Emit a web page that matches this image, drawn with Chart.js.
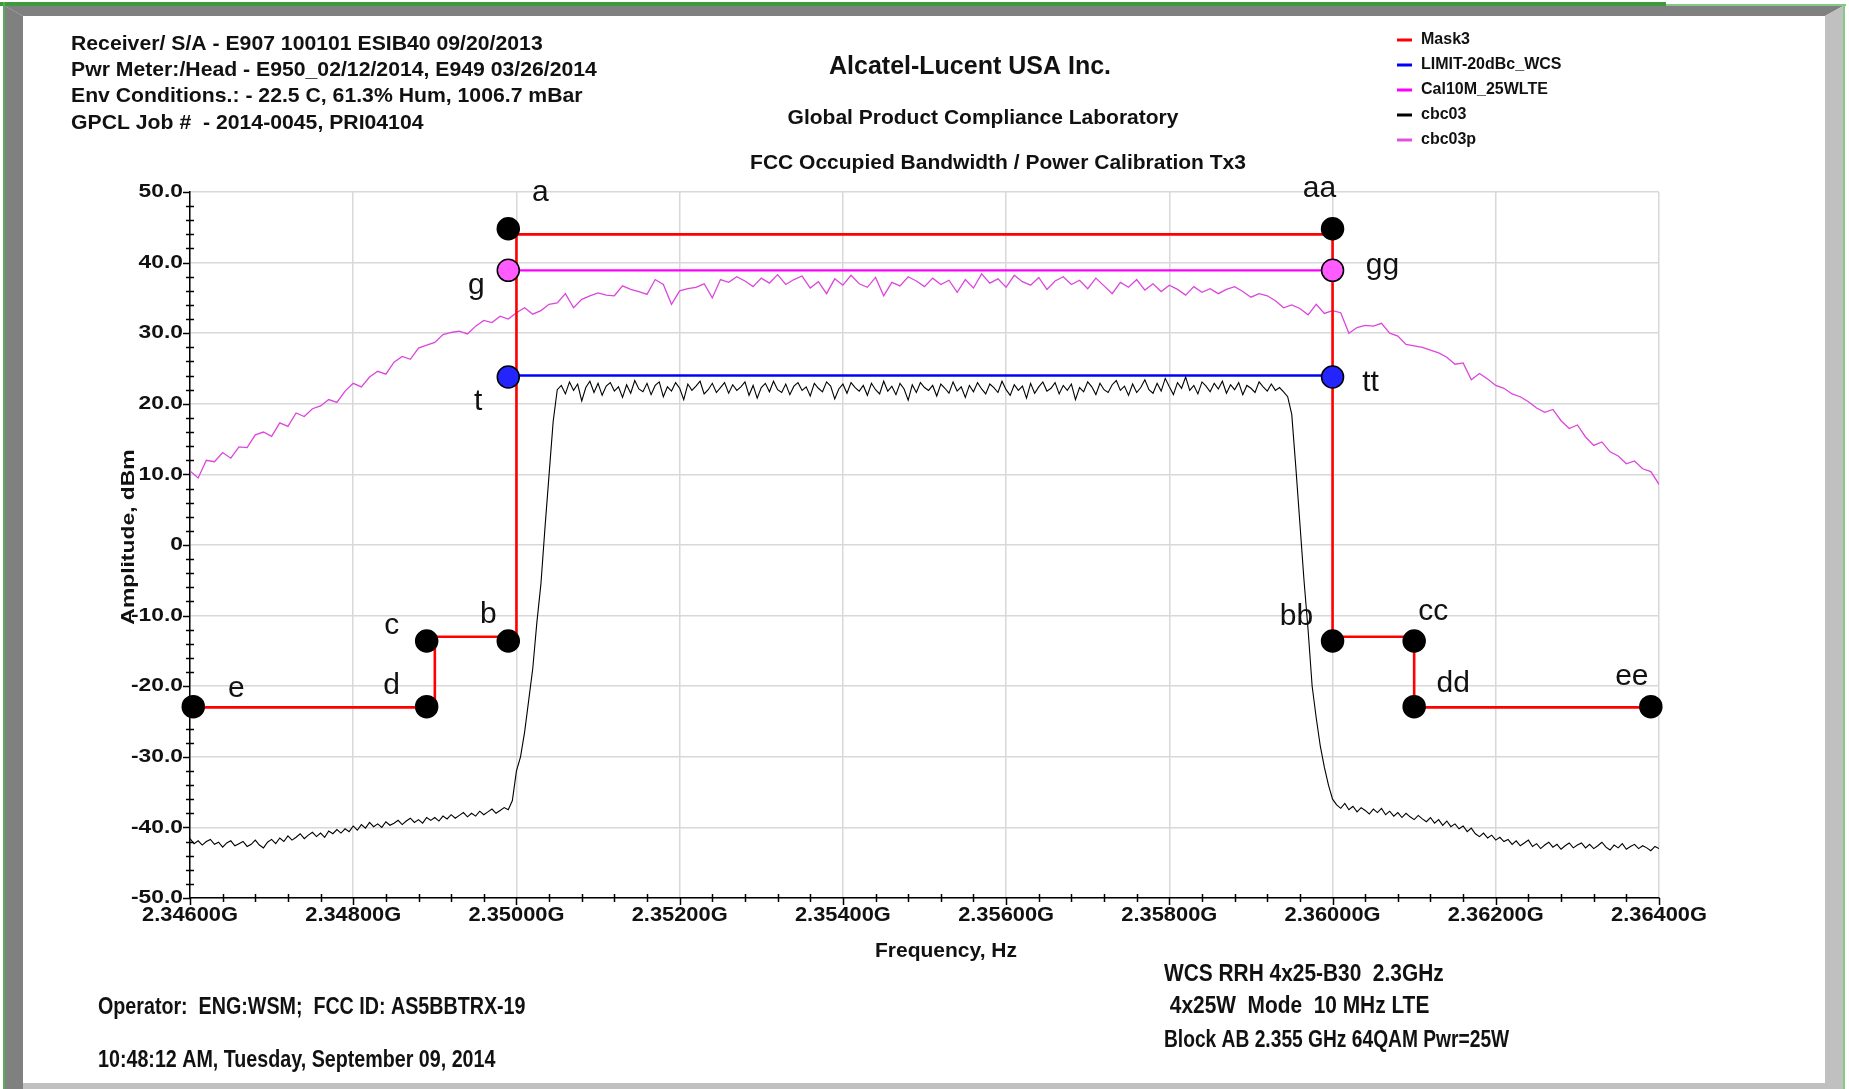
<!DOCTYPE html>
<html>
<head>
<meta charset="utf-8">
<title>FCC Occupied Bandwidth / Power Calibration Tx3</title>
<script src="https://cdn.jsdelivr.net/npm/chart.js@4.4.1/dist/chart.umd.min.js"></script>
<style>
  html, body { margin: 0; padding: 0; background: #ffffff; overflow: hidden; }
  canvas { display: block; }
</style>
</head>
<body>
<canvas id="obwChart" width="1849" height="1089"></canvas>
<script>
// axis ticks
const xTickValues = [2.346, 2.348, 2.350, 2.352, 2.354, 2.356, 2.358, 2.360, 2.362, 2.364];
const xTickLabels = ['2.34600G', '2.34800G', '2.35000G', '2.35200G', '2.35400G', '2.35600G', '2.35800G', '2.36000G', '2.36200G', '2.36400G'];
const yTickValues = [-50, -40, -30, -20, -10, 0, 10, 20, 30, 40, 50];
const yTickLabels = ['-50.0', '-40.0', '-30.0', '-20.0', '-10.0', '0', '10.0', '20.0', '30.0', '40.0', '50.0'];

// Mask3 emission mask (GHz, dBm)
const maskFreq = [2.346, 2.349, 2.349, 2.350, 2.350, 2.360, 2.360, 2.361, 2.361, 2.364];
const maskLevel = [-23, -23, -13, -13, 44, 44, -13, -13, -23, -23];

// LIMIT-20dBc_WCS and Cal10M_25WLTE reference lines
const limitFreq = [2.350, 2.360];
const limitLevel = [24, 24];
const calFreq = [2.350, 2.360];
const calLevel = [38.9, 38.9];

// labelled mask corner markers
const markerNames = ['a', 'b', 'c', 'd', 'e', 'aa', 'bb', 'cc', 'dd', 'ee', 'g', 'gg', 't', 'tt'];
const markerFreq = [2.3499, 2.3499, 2.3489, 2.3489, 2.34604, 2.360, 2.360, 2.361, 2.361, 2.3639, 2.3499, 2.360, 2.3499, 2.360];
const markerLevel = [44.8, -13.6, -13.6, -22.9, -22.9, 44.8, -13.6, -13.6, -22.9, -22.9, 38.9, 38.9, 23.8, 23.8];

// analyzer sweeps
const sweepStart = 2.346;
const cbc03Step = 0.00005;   // 50 kHz bins
const cbc03pStep = 0.0001;   // 100 kHz bins

// cbc03: occupied bandwidth trace, one row per MHz
const cbc03Level = [
  -41.6,-42.3,-41.9,-42.5,-42.0,-41.7,-42.4,-42.1,-42.8,-42.2,-41.9,-42.6,-42.3,-42.0,-42.7,-42.4,-41.8,-42.5,-42.9,-42.1,
  -41.7,-42.3,-41.5,-42.0,-41.2,-41.8,-41.4,-40.9,-41.6,-41.1,-40.7,-41.3,-40.8,-41.4,-40.5,-40.9,-40.3,-40.8,-40.2,-40.6,
  -39.8,-40.4,-39.6,-40.1,-39.3,-39.9,-39.5,-40.0,-39.2,-39.7,-39.4,-39.0,-39.6,-39.1,-38.7,-39.3,-38.9,-39.4,-38.6,-39.0,
  -38.6,-39.1,-38.4,-38.8,-38.2,-38.7,-38.3,-37.9,-38.5,-38.0,-38.4,-37.7,-38.2,-37.8,-37.4,-38.0,-37.6,-37.2,-37.5,-36.2,
  -32.0,-30.0,-26.5,-22.0,-17.5,-11.0,-5.5,2.5,10.0,17.5,22.0,22.6,21.4,23.1,21.9,22.8,20.4,22.3,23.2,21.6,
  22.9,21.2,22.5,23.0,21.8,22.4,20.9,22.7,21.5,23.3,22.1,21.7,22.9,21.3,22.6,23.1,21.0,22.4,21.8,23.0,
  22.2,20.6,22.8,21.9,22.5,23.2,21.4,22.0,22.9,21.6,22.3,23.0,21.5,22.7,21.9,22.4,23.1,21.2,22.6,20.8,
  22.3,22.9,21.7,23.2,22.0,21.6,22.8,21.3,22.5,23.0,21.9,22.4,21.1,22.9,22.2,21.7,23.1,22.5,20.7,22.1,
  22.8,21.5,23.0,22.3,21.8,22.6,21.2,22.9,22.0,21.4,23.2,21.8,22.5,21.3,22.9,22.1,20.5,22.7,21.6,23.0,
  22.3,21.9,22.6,21.1,22.8,22.2,21.5,23.1,21.8,22.4,20.9,22.6,21.7,23.0,22.1,21.4,22.8,22.3,21.6,23.2,
  22.0,21.2,22.7,21.9,22.5,20.8,22.9,21.5,22.4,23.1,21.8,22.2,23.0,21.4,22.6,21.9,22.8,20.6,22.3,21.7,
  23.1,22.4,21.3,22.9,22.0,21.6,22.7,23.3,21.9,22.5,21.2,22.8,21.6,22.3,23.4,22.0,21.5,22.9,21.8,23.6,
  22.4,21.3,23.0,22.2,23.8,21.9,22.6,21.4,23.1,22.5,21.7,22.9,22.1,23.2,21.5,22.7,22.0,23.0,21.3,22.6,
  22.2,21.6,23.1,22.4,21.8,22.8,21.9,22.3,21.7,21.0,18.5,11.0,3.0,-5.0,-12.0,-20.0,-24.5,-28.5,-31.5,-34.0,
  -36.0,-36.8,-37.3,-36.6,-37.5,-37.0,-37.8,-37.2,-37.6,-38.1,-37.4,-37.9,-37.3,-38.2,-37.7,-38.4,-37.9,-38.6,-38.0,-38.5,
  -38.9,-38.3,-38.8,-39.2,-38.6,-39.4,-38.9,-39.7,-39.1,-39.9,-39.5,-40.2,-39.8,-40.6,-40.1,-40.9,-41.3,-40.8,-41.5,-41.1,
  -41.8,-41.4,-42.0,-41.7,-42.4,-41.9,-42.6,-42.2,-41.8,-42.7,-42.3,-43.0,-42.5,-42.1,-42.8,-42.4,-43.1,-42.6,-42.2,-42.9,
  -42.5,-42.2,-42.9,-42.4,-43.0,-42.6,-42.1,-42.8,-43.2,-42.5,-42.9,-42.3,-43.1,-42.7,-42.4,-43.0,-42.6,-42.9,-43.3,-42.7,
  -43.0
];

// cbc03p: power calibration trace, one row per MHz
const cbc03pLevel = [
  10.5, 9.5, 12.0, 11.8, 13.1, 12.3, 13.9, 13.8, 15.6, 16.0,
  15.4, 17.3, 16.8, 18.7, 18.2, 19.3, 19.7, 20.6, 20.2, 21.8,
  22.9, 22.4, 23.8, 24.6, 24.2, 25.9, 26.7, 26.3, 27.9, 28.3,
  28.7, 29.8, 30.1, 30.3, 29.9, 31.0, 31.8, 31.5, 32.4, 32.0,
  32.9, 33.6, 32.7, 33.2, 34.1, 34.3, 35.6, 33.6, 34.8, 35.3,
  35.7, 35.4, 35.3, 36.7, 36.2, 35.9, 35.5, 37.6, 36.9, 34.1,
  36.0, 36.3, 36.5, 37.0, 35.0, 37.6, 37.2, 38.0, 37.4, 36.6,
  37.8, 37.1, 38.3, 36.9, 37.6, 38.1, 36.4, 37.3, 35.6, 37.7,
  36.8, 38.2, 37.0, 36.5, 37.9, 35.3, 37.2, 36.7, 38.0, 37.4,
  36.6, 37.8, 36.9, 37.5, 35.8, 37.6, 36.4, 38.4, 37.1, 37.7,
  36.5, 38.2, 37.3, 36.8, 37.9, 36.2, 37.4, 38.0, 36.9, 37.5,
  36.3, 37.8, 36.7, 35.6, 37.2, 36.5, 37.6, 36.1, 37.0, 35.9,
  36.8, 36.2, 35.4, 36.6, 35.8, 36.3, 35.6, 36.2, 36.6, 35.9,
  35.1, 35.6, 35.3, 34.6, 33.6, 34.0, 33.5, 32.6, 34.1, 32.8,
  33.2, 32.9, 30.0, 30.8, 31.1, 31.0, 31.4, 30.0, 29.6, 28.4,
  28.2, 28.0, 27.6, 27.2, 26.6, 25.6, 25.8, 23.4, 24.3, 23.5,
  22.6, 22.2, 21.4, 21.0, 20.3, 19.4, 18.8, 19.2, 17.6, 16.5,
  17.0, 15.3, 14.1, 14.6, 13.2, 12.6, 11.5, 11.9, 10.8, 10.4,
  8.6
];

const FONT = '"Liberation Sans", Arial, sans-serif';

function pairs(xs, ys) {
  return ys.map((y, i) => ({ x: xs[i], y: y }));
}
function sweep(start, step, ys) {
  return ys.map((y, i) => ({ x: start + i * step, y: y }));
}

// label placement relative to each marker: [dx to text centre, dy to baseline]
const markerLabelOffset = {
  a: [32, -28], b: [-20, -18], c: [-35, -7], d: [-35, -13], e: [43, -10],
  aa: [-13, -32], bb: [-36, -16], cc: [19, -21], dd: [39, -15], ee: [-19, -22],
  g: [-32, 24], gg: [50, 4], t: [-30, 33], tt: [38, 14]
};
const markerFill = markerNames.map(n => n[0] === 'g' ? '#ff5cff' : n[0] === 't' ? '#2424ff' : '#000000');

const legendItems = [
  { label: 'Mask3', color: '#ff0000' },
  { label: 'LIMIT-20dBc_WCS', color: '#0000ff' },
  { label: 'Cal10M_25WLTE', color: '#ff00ff' },
  { label: 'cbc03', color: '#000000' },
  { label: 'cbc03p', color: '#e050e0' }
];

function drawText(ctx, str, x, y, font, align, sx, color) {
  ctx.save();
  ctx.translate(x, y);
  ctx.scale(sx || 1, 1);
  ctx.font = font;
  ctx.textAlign = align || 'left';
  ctx.textBaseline = 'middle';
  ctx.fillStyle = color || '#111111';
  ctx.fillText(str, 0, 0);
  ctx.restore();
}

const pageBackground = {
  id: 'pageBackground',
  beforeDraw(chart) {
    const ctx = chart.ctx;
    ctx.save();
    ctx.fillStyle = '#ffffff';
    ctx.fillRect(0, 0, chart.width, chart.height);
    ctx.restore();
  },
  afterDraw(chart) {
    // bevelled report frame
    const ctx = chart.ctx;
    ctx.save();
    ctx.fillStyle = '#3f9a3f';
    ctx.fillRect(0, 2, 1666, 4);
    ctx.fillStyle = '#86c886';
    ctx.fillRect(1666, 4, 180, 2);
    ctx.fillRect(1843, 4, 2, 1085);
    ctx.fillStyle = '#5aaa5a';
    ctx.fillRect(3, 2, 2, 1087);

    ctx.fillStyle = '#808080';
    ctx.beginPath();
    ctx.moveTo(5, 6); ctx.lineTo(1843, 6); ctx.lineTo(1825, 16); ctx.lineTo(23, 16);
    ctx.closePath(); ctx.fill();
    ctx.beginPath();
    ctx.moveTo(5, 6); ctx.lineTo(23, 16); ctx.lineTo(23, 1089); ctx.lineTo(5, 1089);
    ctx.closePath(); ctx.fill();

    ctx.fillStyle = '#c0c0c0';
    ctx.beginPath();
    ctx.moveTo(1843, 6); ctx.lineTo(1843, 1089); ctx.lineTo(1825, 1089); ctx.lineTo(1825, 16);
    ctx.closePath(); ctx.fill();
    ctx.fillRect(23, 1083, 1802, 6);
    ctx.restore();
  }
};

const reportText = {
  id: 'reportText',
  afterDatasetsDraw(chart) {
    const ctx = chart.ctx;
    const xs = chart.scales.x;
    const ys = chart.scales.y;
    const area = chart.chartArea;

    // minor / major tick marks
    ctx.save();
    ctx.strokeStyle = '#000000';
    ctx.lineWidth = 1.5;
    ctx.beginPath();
    for (let v = -50; v <= 50; v += 2) {
      const py = Math.round(ys.getPixelForValue(v)) + 0.5;
      if (v % 10 === 0) { ctx.moveTo(area.left - 7, py); ctx.lineTo(area.left, py); }
      else { ctx.moveTo(area.left - 4, py); ctx.lineTo(area.left + 4, py); }
    }
    for (let k = 0; k <= 45; k++) {
      const px = Math.round(xs.getPixelForValue(2.346 + k * 0.0004)) + 0.5;
      if (k % 5 === 0) { ctx.moveTo(px, area.bottom); ctx.lineTo(px, area.bottom + 7); }
      else { ctx.moveTo(px, area.bottom - 4); ctx.lineTo(px, area.bottom + 4); }
    }
    ctx.stroke();
    ctx.restore();

    // tick labels
    yTickValues.forEach((v, i) => {
      drawText(ctx, yTickLabels[i], area.left - 7, ys.getPixelForValue(v), 'bold 19px ' + FONT, 'right', 1.2);
    });
    xTickValues.forEach((v, i) => {
      drawText(ctx, xTickLabels[i], xs.getPixelForValue(v), 915, 'bold 21px ' + FONT, 'center', 1.04);
    });

    // axis titles
    drawText(ctx, 'Frequency, Hz', 946, 951, 'bold 21px ' + FONT, 'center', 1);
    ctx.save();
    ctx.translate(129, 537);
    ctx.rotate(-Math.PI / 2);
    drawText(ctx, 'Amplitude, dBm', 0, 0, 'bold 18px ' + FONT, 'center', 1.27);
    ctx.restore();

    // marker letters
    ctx.save();
    ctx.font = '30px ' + FONT;
    ctx.fillStyle = '#111111';
    ctx.textAlign = 'center';
    ctx.textBaseline = 'alphabetic';
    markerNames.forEach((n, i) => {
      const px = xs.getPixelForValue(markerFreq[i]);
      const py = ys.getPixelForValue(markerLevel[i]);
      const off = markerLabelOffset[n];
      ctx.fillText(n, px + off[0], py + off[1]);
    });
    ctx.restore();

    // header block
    const hdr = [
      'Receiver/ S/A - E907 100101 ESIB40 09/20/2013',
      'Pwr Meter:/Head - E950_02/12/2014, E949 03/26/2014',
      'Env Conditions.: - 22.5 C, 61.3% Hum, 1006.7 mBar',
      'GPCL Job #  - 2014-0045, PRI04104'
    ];
    hdr.forEach((s, i) => drawText(ctx, s, 71, 44 + i * 26.3, 'bold 21px ' + FONT, 'left', 1.01));
    drawText(ctx, 'Alcatel-Lucent USA Inc.', 970, 67, 'bold 25px ' + FONT, 'center', 1);
    drawText(ctx, 'Global Product Compliance Laboratory', 983, 118, 'bold 21px ' + FONT, 'center', 1);
    drawText(ctx, 'FCC Occupied Bandwidth / Power Calibration Tx3', 998, 163, 'bold 21px ' + FONT, 'center', 1);

    // legend
    ctx.save();
    legendItems.forEach((it, i) => {
      const y = 40 + i * 25;
      ctx.strokeStyle = it.color;
      ctx.lineWidth = 3;
      ctx.beginPath();
      ctx.moveTo(1397, y);
      ctx.lineTo(1412, y);
      ctx.stroke();
      drawText(ctx, it.label, 1421, y, 'bold 16px ' + FONT, 'left', 1);
    });
    ctx.restore();

    // footer block
    const foot = 'bold 24px ' + FONT;
    drawText(ctx, 'Operator:  ENG:WSM;  FCC ID: AS5BBTRX-19', 98, 1007, foot, 'left', 0.82);
    drawText(ctx, '10:48:12 AM, Tuesday, September 09, 2014', 98, 1060, foot, 'left', 0.82);
    drawText(ctx, 'WCS RRH 4x25-B30  2.3GHz', 1164, 974, foot, 'left', 0.87);
    drawText(ctx, ' 4x25W  Mode  10 MHz LTE', 1164, 1006, foot, 'left', 0.87);
    drawText(ctx, 'Block AB 2.355 GHz 64QAM Pwr=25W', 1164, 1040, foot, 'left', 0.8);
  }
};

const ctx = document.getElementById('obwChart').getContext('2d');

const obwChart = new Chart(ctx, {
  type: 'line',
  data: {
    datasets: [
      {
        label: 'markers',
        data: pairs(markerFreq, markerLevel),
        showLine: false,
        pointRadius: 11,
        pointBackgroundColor: markerFill,
        pointBorderColor: '#000000',
        pointBorderWidth: 1.5,
        clip: false,
        order: 0
      },
      {
        label: 'Mask3',
        data: pairs(maskFreq, maskLevel),
        borderColor: '#ff0000',
        borderWidth: 2.6,
        pointRadius: 0,
        order: 1
      },
      {
        label: 'LIMIT-20dBc_WCS',
        data: pairs(limitFreq, limitLevel),
        borderColor: '#0000ff',
        borderWidth: 2.4,
        pointRadius: 0,
        order: 2
      },
      {
        label: 'Cal10M_25WLTE',
        data: pairs(calFreq, calLevel),
        borderColor: '#ff00ff',
        borderWidth: 2.4,
        pointRadius: 0,
        order: 3
      },
      {
        label: 'cbc03',
        data: sweep(sweepStart, cbc03Step, cbc03Level),
        borderColor: '#000000',
        borderWidth: 1.1,
        pointRadius: 0,
        order: 4
      },
      {
        label: 'cbc03p',
        data: sweep(sweepStart, cbc03pStep, cbc03pLevel),
        borderColor: '#dc46dc',
        borderWidth: 1.3,
        pointRadius: 0,
        order: 5
      }
    ]
  },
  options: {
    responsive: false,
    animation: false,
    events: [],
    layout: {
      padding: { left: 190, right: 190, top: 192, bottom: 191 }
    },
    elements: {
      line: { tension: 0 }
    },
    plugins: {
      legend: { display: false },
      tooltip: { enabled: false }
    },
    scales: {
      x: {
        type: 'linear',
        min: 2.346,
        max: 2.364,
        afterBuildTicks: (scale) => { scale.ticks = xTickValues.map(v => ({ value: v })); },
        afterFit: (scale) => { scale.height = 0; },
        ticks: { display: false },
        grid: { color: '#d8d8d8', lineWidth: 1.5, drawTicks: false },
        border: { color: '#000000', width: 1.5 }
      },
      y: {
        type: 'linear',
        min: -50,
        max: 50,
        afterBuildTicks: (scale) => { scale.ticks = yTickValues.map(v => ({ value: v })); },
        afterFit: (scale) => { scale.width = 0; },
        ticks: { display: false },
        grid: { color: '#d8d8d8', lineWidth: 1.5, drawTicks: false },
        border: { color: '#000000', width: 1.5 }
      }
    }
  },
  plugins: [pageBackground, reportText]
});
</script>
</body>
</html>
